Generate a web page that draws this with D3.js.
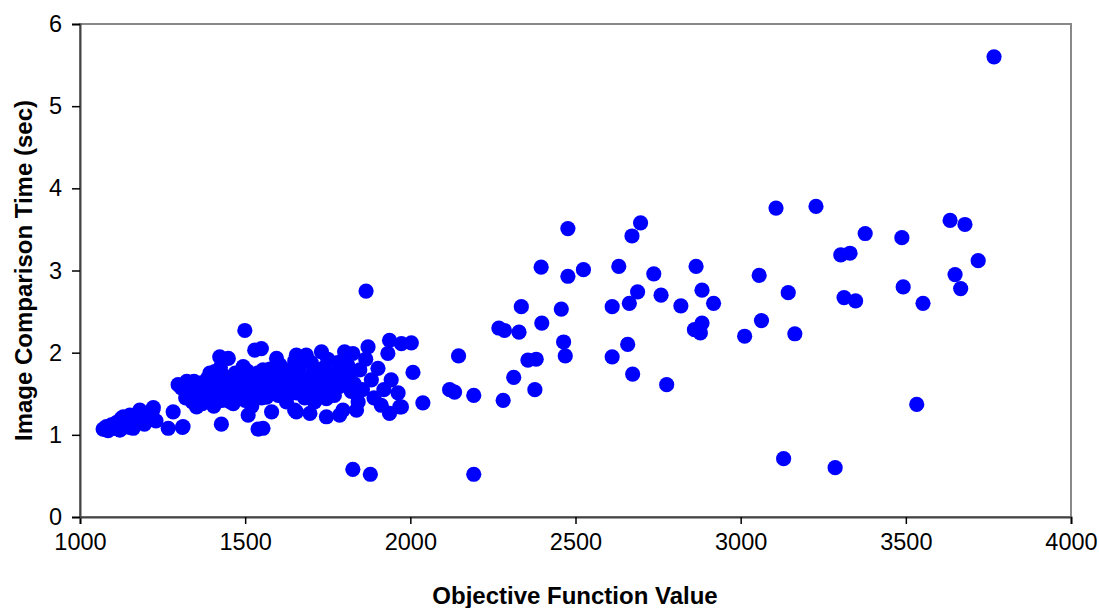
<!DOCTYPE html>
<html>
<head>
<meta charset="utf-8">
<script src="https://cdn.jsdelivr.net/npm/d3@7"></script>
<style>
  body { margin: 0; background: #fff; }
  text { font-family: "Liberation Sans", Arial, sans-serif; fill: #000; }
</style>
</head>
<body>
<svg width="1099" height="608"></svg>
<script>
// objective function value (x) and image comparison time in sec (y)
var objValues = [
  1070, 1075, 1080, 1085, 1095, 1105, 1110, 1120, 1121, 1125, 1131, 1135, 1140, 1150, 1151, 1155, 1161, 1165, 1170, 1180,
  1181, 1185, 1195, 1200, 1210, 1220, 1222, 1230, 1267, 1282, 1297, 1307, 1310, 1312, 1320, 1323, 1330, 1340, 1350, 1353,
  1360, 1363, 1370, 1373, 1380, 1390, 1393, 1400, 1405, 1408, 1413, 1415, 1420, 1423, 1428, 1430, 1435, 1440, 1443, 1449,
  1450, 1455, 1460, 1464, 1470, 1475, 1480, 1484, 1490, 1494, 1495, 1499, 1500, 1505, 1509, 1510, 1515, 1520, 1524, 1529,
  1530, 1535, 1539, 1540, 1544, 1549, 1550, 1554, 1554, 1560, 1565, 1570, 1575, 1580, 1585, 1590, 1595, 1600, 1605, 1610,
  1615, 1625, 1630, 1640, 1645, 1650, 1655, 1655, 1655, 1660, 1665, 1670, 1680, 1685, 1690, 1696, 1700, 1706, 1710, 1716,
  1720, 1726, 1731, 1735, 1746, 1746, 1750, 1760, 1770, 1776, 1786, 1786, 1790, 1796, 1801, 1810, 1821, 1826, 1826, 1830,
  1837, 1842, 1847, 1855, 1865, 1866, 1872, 1879, 1882, 1890, 1902, 1912, 1920, 1932, 1937, 1937, 1942, 1963, 1968, 1973,
  1973, 2003, 2008, 2038, 2119, 2134, 2146, 2192, 2192, 2268, 2281, 2285, 2313, 2329, 2336, 2356, 2377, 2381, 2396, 2398,
  2457, 2464, 2469, 2477, 2477, 2524, 2611, 2611, 2631, 2658, 2663, 2671, 2673, 2688, 2697, 2737, 2759, 2776, 2819, 2860,
  2865, 2878, 2883, 2883, 2918, 3012, 3056, 3063, 3107, 3130, 3144, 3164, 3228, 3286, 3303, 3313, 3331, 3348, 3377, 3488,
  3492, 3533, 3552, 3634, 3649, 3666, 3679, 3719, 3767,
  1335, 1345, 1385, 1398, 1425, 1445, 1465, 1485, 1512, 1525, 1545, 1580, 1595, 1620, 1635, 1650, 1675, 1705, 1725, 1740,
  1755, 1780, 1800, 1815
];
var compTimes = [
  1.07, 1.07, 1.10, 1.05, 1.12, 1.08, 1.15, 1.06, 1.06, 1.20, 1.22, 1.10, 1.14, 1.09, 1.24, 1.18, 1.08, 1.12, 1.22, 1.15,
  1.30, 1.25, 1.13, 1.19, 1.24, 1.30, 1.33, 1.17, 1.08, 1.28, 1.61, 1.57, 1.09, 1.10, 1.45, 1.65, 1.55, 1.40, 1.60, 1.34,
  1.48, 1.63, 1.38, 1.51, 1.55, 1.45, 1.75, 1.62, 1.35, 1.77, 1.40, 1.50, 1.58, 1.95, 1.13, 1.42, 1.72, 1.48, 1.57, 1.93,
  1.65, 1.40, 1.55, 1.38, 1.75, 1.45, 1.58, 1.63, 1.50, 1.83, 1.68, 2.27, 1.42, 1.78, 1.24, 1.55, 1.62, 1.35, 1.44, 2.03,
  1.52, 1.75, 1.07, 1.60, 1.71, 2.05, 1.45, 1.79, 1.08, 1.68, 1.46, 1.55, 1.80, 1.28, 1.62, 1.53, 1.93, 1.48, 1.85, 1.72,
  1.58, 1.40, 1.65, 1.80, 1.67, 1.30, 1.97, 1.51, 1.28, 1.55, 1.83, 1.70, 1.45, 1.97, 1.62, 1.26, 1.88, 1.53, 1.40, 1.69,
  1.58, 1.79, 2.01, 1.65, 1.22, 1.44, 1.92, 1.55, 1.48, 1.75, 1.59, 1.24, 1.70, 1.30, 2.01, 1.85, 1.53, 1.99, 0.58, 1.62,
  1.30, 1.40, 1.79, 1.55, 1.92, 2.75, 2.07, 0.52, 1.67, 1.45, 1.81, 1.36, 1.55, 1.99, 2.15, 1.26, 1.67, 1.51, 1.34, 2.11,
  1.34, 2.12, 1.76, 1.39, 1.55, 1.52, 1.96, 1.48, 0.52, 2.30, 1.42, 2.27, 1.70, 2.25, 2.56, 1.91, 1.55, 1.92, 3.04, 2.36,
  2.53, 2.13, 1.96, 3.51, 2.93, 3.01, 2.56, 1.95, 3.05, 2.10, 2.60, 3.42, 1.74, 2.74, 3.58, 2.96, 2.70, 1.61, 2.57, 2.28,
  3.05, 2.24, 2.76, 2.36, 2.60, 2.20, 2.94, 2.39, 3.76, 0.71, 2.73, 2.23, 3.78, 0.60, 3.19, 2.67, 3.21, 2.63, 3.45, 3.40,
  2.80, 1.37, 2.60, 3.61, 2.95, 2.78, 3.56, 3.12, 5.60,
  1.50, 1.65, 1.68, 1.52, 1.82, 1.62, 1.70, 1.47, 1.70, 1.58, 1.50, 1.72, 1.65, 1.78, 1.52, 1.90, 1.60, 1.75, 1.48, 1.82,
  1.70, 1.88, 1.62, 1.72
];
var xTicks = [1000, 1500, 2000, 2500, 3000, 3500, 4000];
var yTicks = [0, 1, 2, 3, 4, 5, 6];

var svg = d3.select("svg");
var plotLeft = 80, plotRight = 1071, plotTop = 24, plotBottom = 517;

var x = d3.scaleLinear().domain([1000, 4000]).range([plotLeft, plotRight]);
var y = d3.scaleLinear().domain([0, 6]).range([plotBottom, plotTop]);

// plot frame (top / right are lighter)
svg.append("rect")
    .attr("x", plotLeft).attr("y", plotTop)
    .attr("width", plotRight - plotLeft).attr("height", plotBottom - plotTop)
    .attr("fill", "none").attr("stroke", "#888").attr("stroke-width", 2);

var xAxis = svg.append("g")
    .attr("transform", "translate(0," + plotBottom + ")")
    .call(d3.axisBottom(x).tickValues(xTicks).tickSize(7).tickPadding(9).tickFormat(d3.format("d")));
var yAxis = svg.append("g")
    .attr("transform", "translate(" + plotLeft + ",0)")
    .call(d3.axisLeft(y).tickValues(yTicks).tickSize(8).tickPadding(10).tickFormat(d3.format("d")));

[xAxis, yAxis].forEach(function (g) {
    g.select(".domain").attr("stroke", "#444").attr("stroke-width", 2);
    g.selectAll(".tick line").attr("stroke", "#000").attr("stroke-width", 1.5);
    g.selectAll(".tick text").style("font-size", "23.5px")
        .style("font-family", "'Liberation Sans', Arial, sans-serif").attr("fill", "#000");
});

svg.append("g").selectAll("circle")
    .data(objValues.map(function (v, i) { return [v, compTimes[i]]; }))
    .enter().append("circle")
    .attr("cx", function (d) { return x(d[0]); })
    .attr("cy", function (d) { return y(d[1]); })
    .attr("r", 7.6)
    .attr("fill", "#0000ff");

svg.append("text")
    .attr("x", 575).attr("y", 604)
    .attr("text-anchor", "middle")
    .style("font-size", "24px").style("font-weight", "bold")
    .text("Objective Function Value");

svg.append("text")
    .attr("transform", "translate(32," + ((plotTop + plotBottom) / 2) + ") rotate(-90)")
    .attr("text-anchor", "middle")
    .style("font-size", "24px").style("font-weight", "bold")
    .text("Image Comparison Time (sec)");
</script>
</body>
</html>
